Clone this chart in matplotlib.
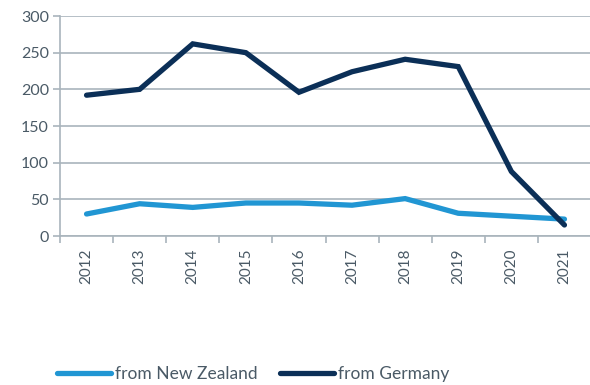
import matplotlib
matplotlib.use("Agg")
import matplotlib.pyplot as plt
from matplotlib.lines import Line2D

years = ["2012", "2013", "2014", "2015", "2016", "2017", "2018", "2019", "2020", "2021"]
from_new_zealand = [30, 44, 39, 45, 45, 42, 51, 31, 27, 23]
from_germany = [192, 200, 262, 250, 196, 224, 241, 231, 88, 15]

y_ticks = [0, 50, 100, 150, 200, 250, 300]

text_color = "#4a5a66"
grid_color = "#a9b4bc"
nz_color = "#2196d3"
de_color = "#0b2f57"

plt.rcParams["font.family"] = ["Lato", "DejaVu Sans"]

fig = plt.figure(figsize=(5.9, 3.85), dpi=100)
ax = fig.add_axes([60 / 590, 1 - 236 / 385, 531 / 590, 220 / 385])

x = list(range(len(years)))
ax.plot(x, from_new_zealand, color=nz_color, lw=3.8, solid_capstyle="round",
        solid_joinstyle="miter", zorder=3)
ax.plot(x, from_germany, color=de_color, lw=3.8, solid_capstyle="round",
        solid_joinstyle="miter", zorder=4)

ax.set_xlim(-0.5, len(years) - 0.5)
ax.set_ylim(0, 300)
ax.set_yticks(y_ticks)
ax.set_yticklabels([str(v) for v in y_ticks])
ax.yaxis.grid(True, color=grid_color, lw=1.2)
ax.set_axisbelow(True)

ax.set_xticks(x)
ax.set_xticklabels(years, rotation=90)
ax.set_xticks([i - 0.5 for i in range(len(years) + 1)], minor=True)
ax.tick_params(axis="x", which="major", length=0, pad=9, labelsize=11, labelcolor=text_color)
ax.tick_params(axis="x", which="minor", length=5, width=1.2, color=grid_color, direction="out")
ax.tick_params(axis="y", length=5, width=1.2, color=grid_color, labelsize=11.5,
               labelcolor=text_color, pad=3)

for side in ["top", "right"]:
    ax.spines[side].set_visible(False)
for side in ["left", "bottom"]:
    ax.spines[side].set_color(grid_color)
    ax.spines[side].set_linewidth(1.2)

handles = [
    Line2D([], [], color=nz_color, lw=3.8, solid_capstyle="round"),
    Line2D([], [], color=de_color, lw=3.8, solid_capstyle="round"),
]
fig.legend(handles, ["from New Zealand", "from Germany"], loc="center left",
           bbox_to_anchor=(48 / 590, 1 - 374 / 385), ncol=2, frameon=False,
           fontsize=12.5, labelcolor=text_color, handlelength=3.1,
           handletextpad=0.25, columnspacing=1.3, borderpad=0)

fig.savefig("out.png", dpi=100)
